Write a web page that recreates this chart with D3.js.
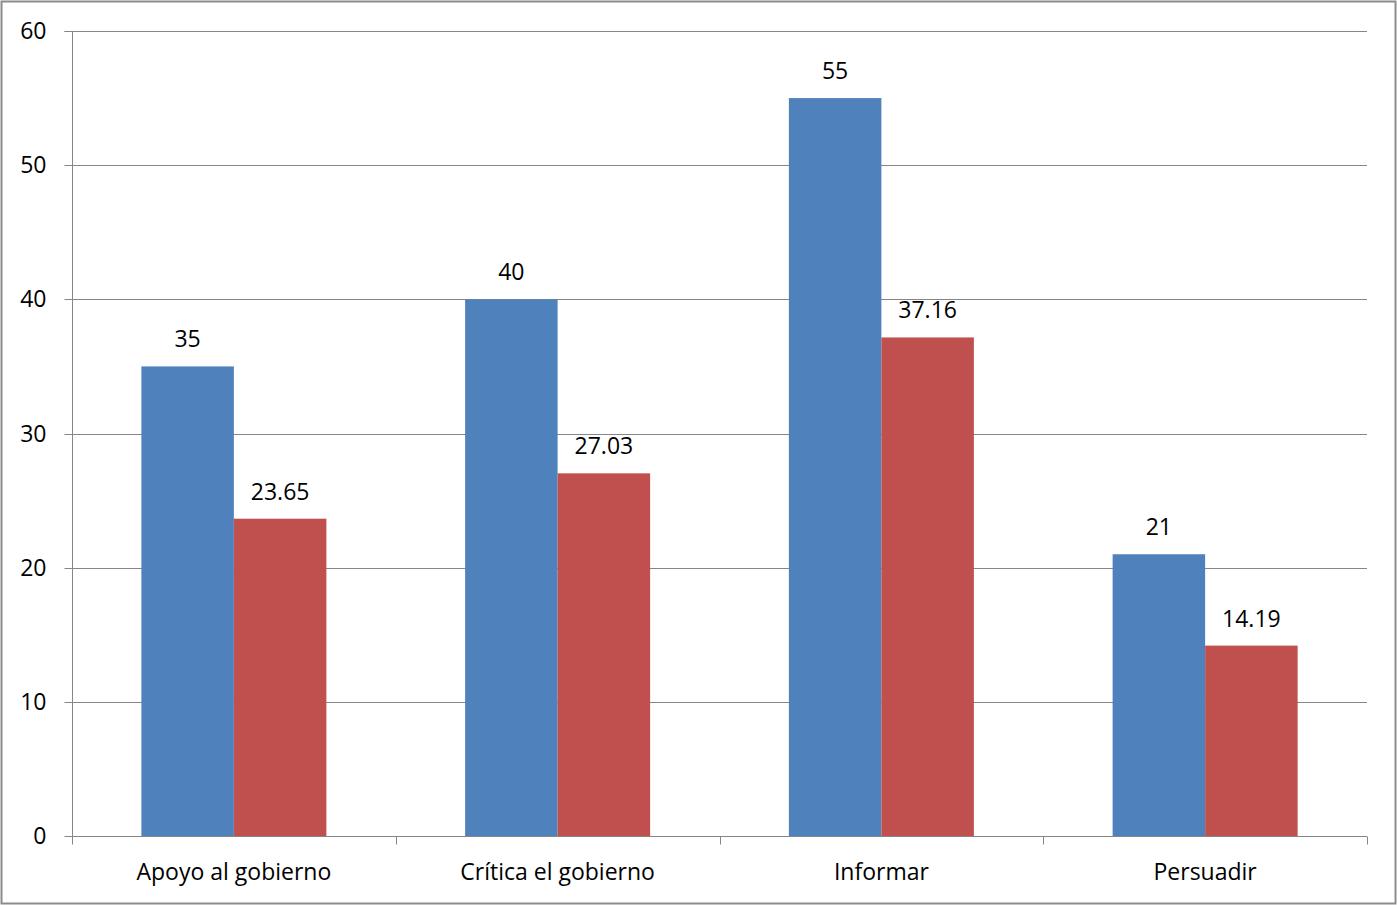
<!DOCTYPE html>
<html><head><meta charset="utf-8">
<script src="https://cdn.jsdelivr.net/npm/d3@7"></script>
<style>html,body{margin:0;padding:0;background:#fff;}svg{display:block;}</style>
</head><body>
<script>
const categories = ["Apoyo al gobierno", "Crítica el gobierno", "Informar", "Persuadir"];
const series1 = [35, 40, 55, 21];
const series2 = [23.65, 27.03, 37.16, 14.19];
const labels1 = ["35", "40", "55", "21"];
const labels2 = ["23.65", "27.03", "37.16", "14.19"];
const yTicks = [0, 10, 20, 30, 40, 50, 60];

const W = 1397, H = 905;
const m = {left: 72, right: 30, top: 31, bottom: 69};
const font = "'Open Sans', 'Noto Sans', sans-serif";
const fs = 23;
const svg = d3.select("body").append("svg").attr("width", W).attr("height", H);
svg.append("rect").attr("x", 1.5).attr("y", 1.5).attr("width", W - 3).attr("height", H - 3)
  .attr("fill", "#fff").attr("stroke", "#8c8c8c").attr("stroke-width", 2);

const x = d3.scaleBand().domain(categories).range([m.left, W - m.right]);
const y = d3.scaleLinear().domain([0, 60]).range([H - m.bottom, m.top]);
const g = svg.append("g");

// gridlines
g.selectAll(".grid").data(yTicks.filter(d => d > 0)).join("line")
  .attr("x1", m.left).attr("x2", W - m.right)
  .attr("y1", d => Math.round(y(d)) + 0.5).attr("y2", d => Math.round(y(d)) + 0.5)
  .attr("stroke", "#868686").attr("stroke-width", 1);

const bw = x.bandwidth() / 3.5;
const series = [{vals: series1, labs: labels1, color: "#4F81BD", off: -1}, {vals: series2, labs: labels2, color: "#C0504D", off: 0}];
series.forEach(s => {
  g.selectAll(null).data(categories).join("rect")
    .attr("x", (c) => x(c) + x.bandwidth() / 2 + s.off * bw)
    .attr("width", bw)
    .attr("y", (c, i) => y(s.vals[i]))
    .attr("height", (c, i) => y(0) - y(s.vals[i]))
    .attr("fill", s.color);
  g.selectAll(null).data(categories).join("text")
    .attr("x", (c) => x(c) + x.bandwidth() / 2 + s.off * bw + bw / 2)
    .attr("y", (c, i) => y(s.vals[i]) - 19)
    .attr("text-anchor", "middle").attr("font-family", font).attr("font-size", fs)
    .attr("fill", "#000").text((c, i) => s.labs[i]);
});

// y axis
const ya = d3.axisLeft(y).tickValues(yTicks).tickSize(8).tickPadding(18).tickFormat(d3.format("d"));
const yg = svg.append("g").attr("transform", `translate(${m.left + 0.5},0)`).call(ya);
yg.select(".domain").attr("stroke", "#868686").attr("d", `M-8,${m.top + 0.5}H0V${H - m.bottom + 0.5}`);
yg.selectAll(".tick line").attr("stroke", "#868686");
yg.selectAll(".tick").attr("transform", d => `translate(0,${Math.round(y(d)) + 0.5})`);
yg.selectAll("text").attr("font-family", font).attr("font-size", fs).attr("fill", "#000");

// x axis
const xg = svg.append("g").attr("transform", `translate(0,${Math.round(y(0)) + 0.5})`);
xg.append("line").attr("x1", m.left).attr("x2", W - m.right).attr("stroke", "#868686");
const bounds = categories.map(c => x(c)).concat([x(categories[categories.length - 1]) + x.bandwidth()]);
xg.selectAll(".xt").data(bounds).join("line")
  .attr("x1", d => Math.round(d) + 0.5).attr("x2", d => Math.round(d) + 0.5).attr("y1", 0).attr("y2", 8)
  .attr("stroke", "#868686");
xg.selectAll(".xl").data(categories).join("text")
  .attr("x", c => x(c) + x.bandwidth() / 2).attr("y", 43)
  .attr("text-anchor", "middle").attr("font-family", font).attr("font-size", fs).attr("fill", "#000")
  .text(c => c);
</script>
</body></html>
